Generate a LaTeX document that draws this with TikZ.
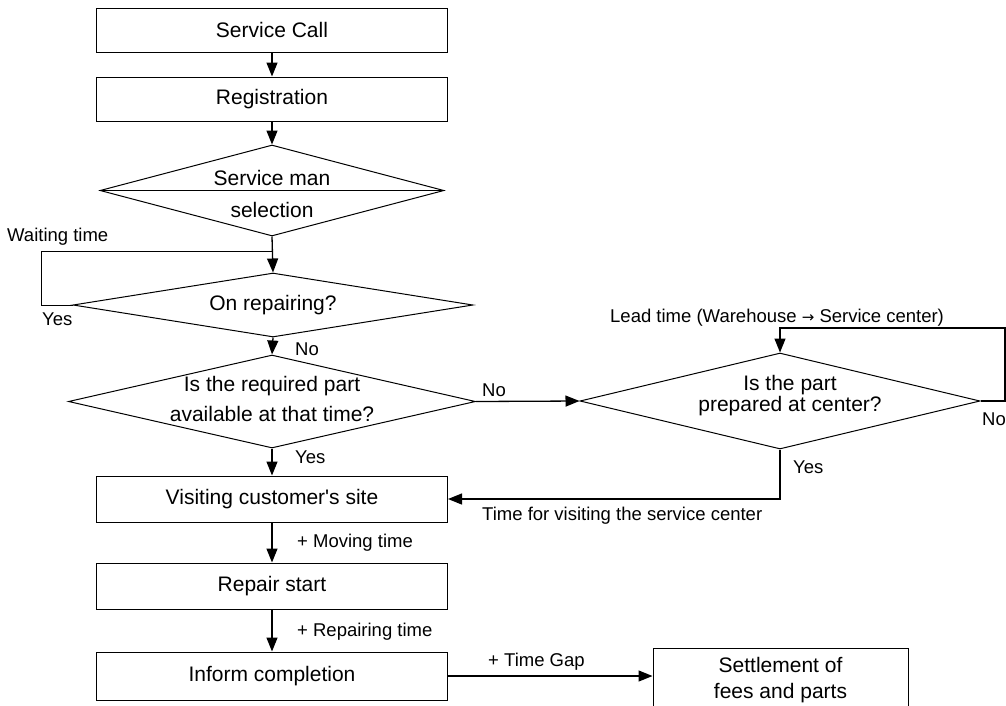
\documentclass[tikz,border=0pt]{standalone}
\usepackage{fontspec}
\setmainfont{Liberation Sans}
\newfontfamily\plainsans{Liberation Sans}
\usetikzlibrary{shapes.geometric,arrows.meta}
\tikzset{
  boxnode/.style={draw, line width=1pt, minimum width=351pt, inner sep=0pt, align=center, font=\fontsize{21}{26}\selectfont},
  dianode/.style={draw, diamond, line width=1pt, inner sep=0pt},
  dtext/.style={inner sep=0pt, align=center, font=\fontsize{21}{26}\selectfont},
  lbl/.style={inner sep=0pt, font=\fontsize{18.5}{22}\selectfont},
  arr/.style={line width=1.3pt, -{Triangle[length=14pt,width=11pt]}},
  ln/.style={line width=1pt},
}
\begin{document}
\begin{tikzpicture}[x=1pt,y=-1pt]
\useasboundingbox (0,0) rectangle (1006,705);
% boxes
\node[boxnode, minimum height=44pt] (sc) at (272,30) {Service Call};
\node[boxnode, minimum height=44pt] (reg) at (272,99) {Registration};
\node[dianode, minimum width=344pt, minimum height=91pt] (sel) at (272,190.5) {};
\draw[ln] (sel.west) -- (sel.east);
\node[dtext] (selA) at (272,178) {Service man};
\node[dtext] (selB) at (272,210) {selection};
\node[dianode, minimum width=400pt, minimum height=64pt] (onrep) at (273,305) {};
\node[dtext] (onrepT) at (273,305) {On repairing?};
\node[dianode, minimum width=407pt, minimum height=93pt] (req) at (272,401.5) {};
\node[dtext, font=\fontsize{21}{30}\selectfont] (reqT) at (272,399) {Is the required part\\available at that time?};
\node[dianode, minimum width=400pt, minimum height=96pt] (part) at (780,401) {};
\node[dtext, font=\fontsize{21}{21}\selectfont] (partT) at (790,396) {Is the part\\prepared at center?};
\node[boxnode, minimum height=46pt] (visit) at (272,499) {\plainsans Visiting customer's site};
\node[boxnode, minimum height=46pt] (repair) at (272,586) {Repair start};
\node[boxnode, minimum height=48pt] (inform) at (272,676) {Inform completion};
\node[boxnode, minimum width=255pt, minimum height=64pt, font=\fontsize{21}{26}\selectfont] (settle) at (780.5,680) {Settlement of\\fees and parts};
% connectors
\draw[arr] (sc.south) -- (reg.north);
\draw[arr] (reg.south) -- (sel.north);
\draw[arr] (sel.south) -- (onrep.north);
\draw[arr] (onrep.south) -- (req.north);
\draw[arr] (req.south) -- (visit.north);
\draw[arr] (req.east) -- (part.west);
\draw[arr] (part.south) |- (visit.east);
\draw[arr] (visit.south) -- (repair.north);
\draw[arr] (repair.south) -- (inform.north);
\draw[arr] (inform.east) -- (settle.west |- inform.east);
\coordinate (wt) at (272,251);
\coordinate (wl) at (41,251);
\draw[ln] (wt) -- (wl) |- (onrep.west);
\coordinate (lr) at (1005,328);
\draw[arr] (part.east) -| (lr) -| (part.north);
% labels
\node[lbl, anchor=base west] (l1) at (7,241) {Waiting time};
\node[lbl, anchor=base west] (l2) at (42,325) {Yes};
\node[lbl, anchor=base west] (l3) at (295,355) {No};
\node[lbl, anchor=base west] (l4) at (295,463) {Yes};
\node[lbl, anchor=base west] (l5) at (482,396) {No};
\node[lbl, anchor=base west] (l6) at (610,322) {Lead time (Warehouse {\fontspec{DejaVu Sans}\fontsize{15}{18}\selectfont →} Service center)};
\node[lbl, anchor=base west] (l7) at (982,425) {No};
\node[lbl, anchor=base west] (l8) at (793,473) {Yes};
\node[lbl, anchor=base west] (l9) at (482,520) {Time for visiting the service center};
\node[lbl, anchor=base west] (l10) at (297,547) {+ Moving time};
\node[lbl, anchor=base west] (l11) at (297,636) {+ Repairing time};
\node[lbl, anchor=base west] (l12) at (488,666) {+ Time Gap};
\end{tikzpicture}
\end{document}
